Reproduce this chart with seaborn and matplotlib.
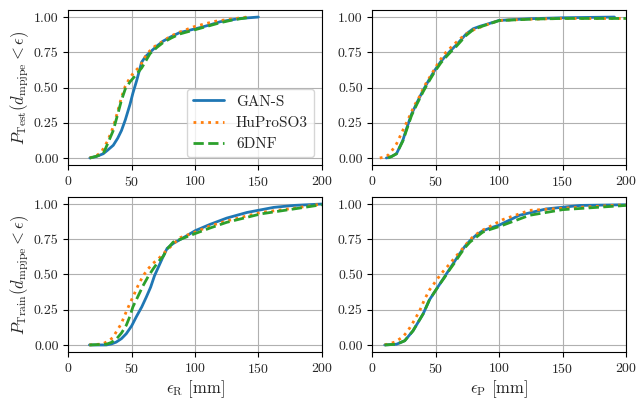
import numpy as np
import pandas as pd
import matplotlib
matplotlib.use("Agg")
import matplotlib.pyplot as plt
import seaborn as sns

methods = ["GAN-S", "HuProSO3", "6DNF"]

# Test, eps_R
test_r_x = {
    "GAN-S":    [17, 22, 27.6, 31, 35.5, 39, 42, 45, 48.7, 51, 54, 57.9, 61, 64.5, 70, 75, 81, 88, 95, 104, 112, 120, 135.5, 150],
    "HuProSO3": [17, 22, 26, 31, 35.5, 39, 42, 45, 48.7, 52, 56.6, 62, 68, 75, 81, 87, 98.7, 107, 116, 128, 141],
    "6DNF":     [17, 22, 27.6, 31, 35.5, 39, 42, 45, 48.7, 53, 58, 64.5, 70, 75, 81, 88, 100, 110, 120, 130, 141],
}
test_r_y = {
    "GAN-S":    [0, 0.01, 0.03, 0.055, 0.09, 0.14, 0.195, 0.27, 0.38, 0.46, 0.55, 0.68, 0.72, 0.75, 0.795, 0.83, 0.86, 0.89, 0.905, 0.925, 0.945, 0.967, 0.99, 1.0],
    "HuProSO3": [0, 0.015, 0.04, 0.12, 0.22, 0.33, 0.43, 0.51, 0.57, 0.61, 0.65, 0.74, 0.79, 0.83, 0.865, 0.89, 0.93, 0.95, 0.97, 0.985, 1.0],
    "6DNF":     [0, 0.012, 0.03, 0.1, 0.195, 0.31, 0.41, 0.49, 0.54, 0.585, 0.64, 0.74, 0.785, 0.82, 0.85, 0.88, 0.91, 0.935, 0.96, 0.98, 0.995],
}

# Test, eps_P
test_p_x = {
    "GAN-S":    [11, 15, 19, 24, 27, 30.8, 35, 40, 45, 49, 54, 58.4, 62, 66, 70, 74, 79.5, 85, 90, 95, 100, 124, 150.5, 191],
    "HuProSO3": [5.8, 9, 12.4, 16, 19, 24, 29.5, 33, 37.4, 41, 45, 49, 53, 58, 63.7, 69, 74, 80, 90, 95, 100, 125, 150, 200],
    "6DNF":     [12.4, 15, 19, 24, 27, 30.8, 35, 40, 45, 49, 54, 58.4, 62, 66, 70, 74, 79.5, 85, 90, 95, 100, 125, 150, 200],
}
test_p_y = {
    "GAN-S":    [0, 0.01, 0.03, 0.125, 0.21, 0.31, 0.39, 0.48, 0.56, 0.62, 0.685, 0.73, 0.765, 0.80, 0.84, 0.88, 0.917, 0.935, 0.948, 0.962, 0.976, 0.988, 0.995, 1.0],
    "HuProSO3": [0, 0.005, 0.02, 0.06, 0.10, 0.196, 0.30, 0.37, 0.44, 0.51, 0.57, 0.63, 0.69, 0.75, 0.80, 0.845, 0.88, 0.91, 0.945, 0.96, 0.976, 0.985, 0.99, 0.99],
    "6DNF":     [0, 0.01, 0.03, 0.12, 0.20, 0.30, 0.38, 0.47, 0.55, 0.61, 0.675, 0.72, 0.755, 0.79, 0.83, 0.87, 0.91, 0.93, 0.945, 0.96, 0.975, 0.985, 0.99, 0.99],
}

# Train, eps_R
train_r_x = {
    "GAN-S":    [16.7, 30, 34, 37.8, 42, 45.8, 50, 53.7, 58, 61.6, 65, 68, 72, 75, 78, 82.8, 90.7, 100, 112, 125, 141, 162, 178, 200],
    "HuProSO3": [16.7, 27, 31, 35, 38, 41.8, 45, 48.4, 52, 55, 59, 63, 67, 71, 77.5, 88, 100, 112, 125, 152, 178, 200],
    "6DNF":     [16.7, 30, 34, 37.8, 42, 45.8, 48.5, 51, 55, 59, 63, 67, 71, 75, 78, 82.8, 90, 100, 112, 125, 152, 178, 200],
}
train_r_y = {
    "GAN-S":    [0, 0, 0.007, 0.02, 0.045, 0.08, 0.135, 0.2, 0.27, 0.34, 0.41, 0.49, 0.57, 0.63, 0.685, 0.72, 0.76, 0.81, 0.856, 0.90, 0.94, 0.976, 0.99, 1.0],
    "HuProSO3": [0, 0.007, 0.025, 0.05, 0.095, 0.15, 0.22, 0.29, 0.36, 0.42, 0.49, 0.54, 0.58, 0.61, 0.67, 0.76, 0.80, 0.845, 0.88, 0.94, 0.97, 1.0],
    "6DNF":     [0, 0.005, 0.018, 0.04, 0.085, 0.14, 0.2, 0.27, 0.345, 0.42, 0.485, 0.54, 0.59, 0.63, 0.68, 0.73, 0.755, 0.79, 0.83, 0.87, 0.93, 0.965, 0.995],
}

# Train, eps_P
train_p_x = {
    "GAN-S":    [9.7, 19, 25.5, 32, 36, 40, 45, 49, 53, 57, 61, 65, 69, 73, 77, 82, 87, 93, 100, 116, 137, 164, 200],
    "HuProSO3": [9.7, 17.6, 24, 27.5, 30.8, 34, 37.4, 41, 45, 49, 53, 57, 61, 65, 69, 74, 79.5, 86, 92.6, 103, 124, 150, 200],
    "6DNF":     [9.7, 19, 25.5, 32, 36, 40, 45, 49, 53, 57, 61, 65, 69, 73, 77, 82, 87, 93, 100, 124, 150, 200],
}
train_p_y = {
    "GAN-S":    [0, 0.005, 0.03, 0.10, 0.16, 0.22, 0.32, 0.375, 0.43, 0.485, 0.54, 0.595, 0.65, 0.70, 0.74, 0.78, 0.81, 0.83, 0.85, 0.92, 0.965, 0.99, 0.995],
    "HuProSO3": [0, 0.02, 0.057, 0.095, 0.14, 0.19, 0.245, 0.32, 0.39, 0.44, 0.49, 0.535, 0.575, 0.62, 0.66, 0.715, 0.77, 0.81, 0.84, 0.89, 0.955, 0.97, 0.995],
    "6DNF":     [0, 0.005, 0.03, 0.10, 0.16, 0.22, 0.32, 0.375, 0.43, 0.48, 0.535, 0.585, 0.64, 0.69, 0.73, 0.765, 0.80, 0.82, 0.84, 0.92, 0.96, 0.99],
}

panels = [
    (test_r_x, test_r_y, "Test", "R"),
    (test_p_x, test_p_y, "Test", "P"),
    (train_r_x, train_r_y, "Train", "R"),
    (train_p_x, train_p_y, "Train", "P"),
]


def to_long(xs, ys):
    rows = []
    for m in methods:
        for x, y in zip(xs[m], ys[m]):
            rows.append({"eps": x, "p": y, "method": m})
    return pd.DataFrame(rows)


sns.set_style("ticks", {"axes.grid": True, "grid.color": "#b0b0b0",
                        "axes.edgecolor": "black"})
plt.rcParams["font.family"] = "serif"
plt.rcParams["font.serif"] = ["cmr10"]
plt.rcParams["mathtext.fontset"] = "cm"
plt.rcParams["axes.formatter.use_mathtext"] = True
plt.rcParams["font.size"] = 10
plt.rcParams["axes.labelsize"] = 12

palette = {"GAN-S": "#1f77b4", "HuProSO3": "#ff7f0e", "6DNF": "#2ca02c"}
dashes = {"GAN-S": "", "HuProSO3": (1, 1.65), "6DNF": (3.7, 1.6)}

fig, axes = plt.subplots(2, 2, figsize=(6.38, 4.0), dpi=100)
fig.subplots_adjust(left=0.107, right=0.981, top=0.975, bottom=0.12,
                    wspace=0.2, hspace=0.206)

for ax, (xs, ys, split, kind) in zip(axes.flat, panels):
    df = to_long(xs, ys)
    sns.lineplot(data=df, x="eps", y="p", hue="method", style="method",
                 palette=palette, dashes=dashes, estimator=None,
                 linewidth=2, ax=ax, legend=(split == "Test" and kind == "R"))
    ax.set_xlim(0, 200)
    ax.set_ylim(-0.05, 1.05)
    ax.set_xticks([0, 50, 100, 150, 200])
    ax.set_yticks([0, 0.25, 0.5, 0.75, 1.0])
    ax.set_yticklabels(["0.00", "0.25", "0.50", "0.75", "1.00"])
    ax.tick_params(direction="out", length=3.5, color="black")
    for s in ax.spines.values():
        s.set_color("black")
        s.set_linewidth(0.8)
    if kind == "R":
        ax.set_ylabel(r"$P_{\mathrm{" + split + r"}}(d_{\mathrm{mpjpe}} < \epsilon)$", labelpad=2)
    else:
        ax.set_ylabel("")
    if split == "Train":
        ax.set_xlabel(r"$\epsilon_{\mathrm{" + kind + r"}}$ [mm]", labelpad=2)
    else:
        ax.set_xlabel("")

sns.move_legend(axes[0, 0], "lower right", title=None, fontsize=11,
                frameon=True)

fig.savefig("out.png", dpi=100)
